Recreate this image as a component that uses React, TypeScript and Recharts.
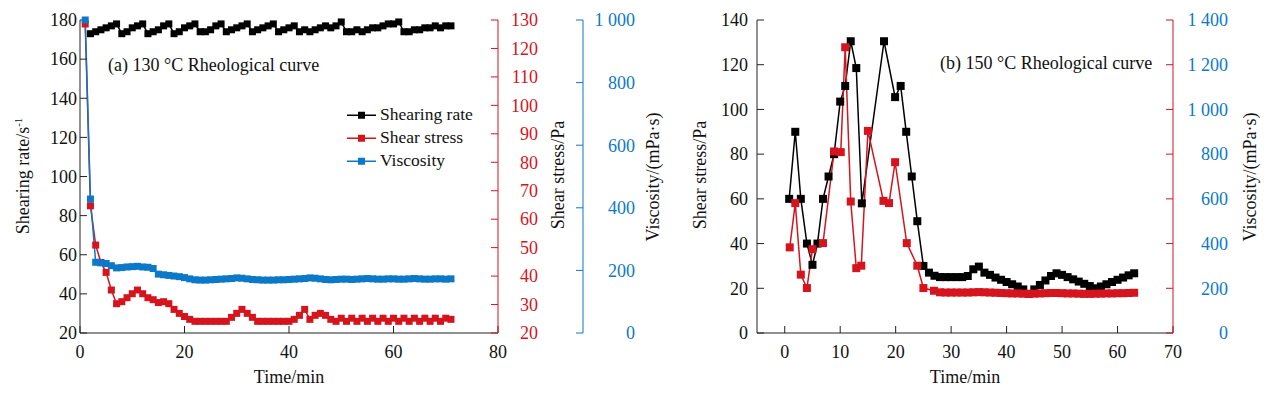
import { Line, LineChart, XAxis, YAxis } from "recharts";

const FONT = "'Liberation Serif', 'Times New Roman', Times, serif";
const RED = "#d5141d";
const BLUE = "#0c79c8";
const INK = "#111";

// (a) 130 °C — sampled once a minute
const timeA = [
  1, 2, 3, 4, 5, 6, 7, 8, 9, 10, 11, 12, 13, 14, 15, 16, 17, 18, 19, 20,
  21, 22, 23, 24, 25, 26, 27, 28, 29, 30, 31, 32, 33, 34, 35, 36, 37, 38, 39, 40,
  41, 42, 43, 44, 45, 46, 47, 48, 49, 50, 51, 52, 53, 54, 55, 56, 57, 58, 59, 60,
  61, 62, 63, 64, 65, 66, 67, 68, 69, 70, 71,
];
const shearRateA = [
  null, 173, 174, 175, 176, 177, 178, 173, 174, 176, 177, 178, 173, 174, 175, 177, 178, 173, 174, 176,
  177, 178, 174, 174, 175, 177, 178, 174, 175, 176, 177, 178, 174, 175, 176, 177, 178, 174, 175, 176,
  177, 174, 175, 174, 175, 176, 177, 176, 177, 179, 174, 174, 175, 174, 175, 176, 176, 177, 178, 178,
  179, 174, 174, 175, 175, 176, 176, 177, 176, 177, 177,
];
const shearStressA = [
  128.6, 64.7, 50.9, 44.8, 41.3, 35.1, 30.3, 31.0, 32.4, 33.8, 35.1, 33.8, 32.4, 31.7, 30.7, 31.0, 30.3, 28.3, 26.9, 25.8,
  24.8, 24.1, 24.1, 24.1, 24.1, 24.1, 24.1, 24.1, 25.5, 26.9, 28.3, 26.9, 25.5, 24.1, 24.1, 24.1, 24.1, 24.1, 24.1, 24.1,
  24.8, 26.2, 28.3, 24.8, 26.2, 26.9, 26.2, 24.8, 24.1, 25.2, 24.1, 25.2, 24.1, 25.2, 24.1, 25.2, 24.1, 25.2, 24.1, 25.2,
  24.1, 25.2, 24.1, 25.2, 24.1, 25.2, 24.1, 25.2, 24.1, 25.2, 24.8,
];
const viscosityA = [
  1000, 428, 226, 224, 222, 215, 208, 209, 211, 212, 213, 211, 210, 206, 188, 186, 184, 182, 180, 177,
  173, 170, 169, 169, 170, 171, 172, 173, 174, 176, 175, 173, 171, 170, 169, 169, 169, 170, 170, 171,
  172, 173, 174, 176, 175, 173, 171, 170, 171, 172, 172, 171, 172, 173, 174, 173, 172, 172, 173, 173,
  172, 172, 173, 174, 173, 172, 172, 173, 173, 172, 173,
];

// (b) 150 °C
const timeStressB = [
  0.8, 1.9, 2.9, 4, 5, 5.9, 6.9, 7.9, 8.9, 10, 10.9, 11.9, 12.9, 13.9, 17.9, 19.9, 20.9, 21.9, 22.9, 23.9,
  25, 26, 27, 28, 29, 30, 31, 32, 33, 34, 35, 36, 37, 38, 39, 40, 41, 42, 43, 44,
  45, 46, 47, 48, 49, 50, 51, 52, 53, 54, 55, 56, 57, 58, 59, 60, 61, 62, 63,
];
const shearStressB = [
  60, 90, 60, 40, 30.5, 40, 60, 70, 80, 103.5, 110.5, 130.5, 118.5, 58, 130.5, 105.5, 110.5, 90, 70, 50,
  30, 27, 25.6, 25, 25, 25, 25, 25, 25.5, 28.5, 29.7, 27, 26, 24.8, 23.8, 22.8, 21.8, 20.8, 19.5, 17.5,
  19.5, 21.5, 23.5, 25.5, 26.7, 26, 25, 24, 23, 22, 21, 20, 20.8, 21.8, 22.8, 23.8, 24.8, 25.8, 26.7,
];
const timeViscB = [
  0.9, 1.9, 2.9, 4, 5, 6.9, 8.9, 10.1, 10.9, 11.9, 12.9, 13.8, 15, 17.8, 18.8, 19.9, 22, 23.9, 25, 26.9,
  28, 29, 30, 31, 32, 33, 34, 35, 36, 37, 38, 39, 40, 41, 42, 43, 44, 45, 46, 47,
  48, 49, 50, 51, 52, 53, 54, 55, 56, 57, 58, 59, 60, 61, 62, 63,
];
const viscosityB = [
  383, 581, 261, 201, 375, 402, 812, 809, 1278, 588, 290, 301, 904, 591, 581, 764, 402, 301, 201, 189,
  182, 181, 181, 181, 181, 181, 182, 183, 182, 181, 180, 179, 178, 177, 177, 176, 175, 176, 177, 178,
  179, 179, 178, 177, 177, 176, 175, 175, 176, 176, 177, 177, 178, 178, 179, 180,
];

const ticksRate = [20, 40, 60, 80, 100, 120, 140, 160, 180];
const ticksStressA = [20, 30, 40, 50, 60, 70, 80, 90, 100, 110, 120, 130];
const ticksViscA = [0, 200, 400, 600, 800, 1000];
const ticksTimeA = [0, 20, 40, 60, 80];
const ticksStressB = [0, 20, 40, 60, 80, 100, 120, 140];
const ticksViscB = [0, 200, 400, 600, 800, 1000, 1200, 1400];
const ticksTimeB = [0, 10, 20, 30, 40, 50, 60, 70];

const rowsA = timeA.map((t, i) => ({
  t,
  rate: shearRateA[i],
  stress: shearStressA[i],
  visc: viscosityA[i],
}));
const stressRowsB = timeStressB.map((t, i) => ({ t, v: shearStressB[i] }));
const viscRowsB = timeViscB.map((t, i) => ({ t, v: viscosityB[i] }));

const thousands = (v: number) =>
  v >= 1000 ? `${Math.floor(v / 1000)} ${String(v % 1000).padStart(3, "0")}` : String(v);

const squareDot = (color: string, size: number) => (props: any) => {
  const { cx, cy, index } = props;
  if (cx == null || cy == null || isNaN(cy)) return <g key={`d-${index}`} />;
  return (
    <rect key={`d-${index}`} x={cx - size / 2} y={cy - size / 2} width={size} height={size} fill={color} />
  );
};

// one tick renderer for every axis, so the serif font is set on the text itself
const makeTick =
  (color: string, anchor: "start" | "middle" | "end", dy: string, fmt: (v: number) => string = String) =>
  (props: any) => (
    <text
      x={props.x}
      y={props.y}
      dy={dy}
      textAnchor={anchor}
      fill={color}
      style={{ fontFamily: FONT, fontSize: 18 }}
    >
      {fmt(props.payload.value)}
    </text>
  );

function Note({ x, y, children, rotate = false, size = 17 }: any) {
  return (
    <div
      style={{
        position: "absolute",
        left: x,
        top: y,
        transform: rotate ? "translate(-50%, -50%) rotate(-90deg)" : "translate(0, -50%)",
        whiteSpace: "nowrap",
        fontFamily: FONT,
        fontSize: size,
        lineHeight: 1,
        color: INK,
      }}
    >
      {children}
    </div>
  );
}

function Centered({ x, y, children }: any) {
  return (
    <div
      style={{
        position: "absolute",
        left: x,
        top: y,
        transform: "translate(-50%, -50%)",
        whiteSpace: "nowrap",
        fontFamily: FONT,
        fontSize: 18,
        fontWeight: 400,
        lineHeight: 1,
        color: INK,
      }}
    >
      {children}
    </div>
  );
}

const legendItems = [
  { name: "Shearing rate", color: "#000" },
  { name: "Shear stress", color: RED },
  { name: "Viscosity", color: BLUE },
];

export default function App() {
  return (
    <div
      style={{
        position: "absolute",
        left: 0,
        top: 0,
        width: 1270,
        height: 393,
        background: "#fff",
        fontFamily: FONT,
      }}
    >
      <div style={{ position: "absolute", left: 0, top: 0 }}>
        <LineChart
          width={660}
          height={393}
          data={rowsA}
          margin={{ top: 20, right: 0, bottom: 0, left: 0 }}
          style={{ fontFamily: FONT }}
        >
          <XAxis
            xAxisId="b"
            dataKey="t"
            type="number"
            domain={[0, 80]}
            ticks={ticksTimeA}
            interval={0}
            height={60}
            tickSize={-7}
            tickMargin={19}
            axisLine={{ stroke: "#222" }}
            tickLine={{ stroke: "#222" }}
            tick={makeTick(INK, "middle", "0.71em")}
          />
          <XAxis
            xAxisId="top"
            orientation="top"
            type="number"
            domain={[0, 80]}
            height={0}
            tick={false}
            tickLine={false}
            axisLine={{ stroke: "#555" }}
          />
          <YAxis
            yAxisId="rate"
            domain={[20, 180]}
            ticks={ticksRate}
            interval={0}
            width={80}
            tickSize={-7}
            tickMargin={10}
            axisLine={{ stroke: "#222" }}
            tickLine={{ stroke: "#222" }}
            tick={makeTick(INK, "end", "0.35em")}
          />
          <YAxis
            yAxisId="stress"
            orientation="right"
            domain={[20, 130]}
            ticks={ticksStressA}
            interval={0}
            width={85}
            tickSize={-7}
            tickMargin={47}
            axisLine={{ stroke: RED }}
            tickLine={{ stroke: RED }}
            tick={makeTick(RED, "end", "0.35em")}
          />
          <YAxis
            yAxisId="visc"
            orientation="right"
            domain={[0, 1000]}
            ticks={ticksViscA}
            interval={0}
            width={77}
            tickSize={-7}
            tickMargin={59}
            axisLine={{ stroke: BLUE }}
            tickLine={{ stroke: BLUE }}
            tick={makeTick(BLUE, "end", "0.35em", thousands)}
          />
          <Line
            xAxisId="b"
            yAxisId="rate"
            dataKey="rate"
            stroke="#000"
            strokeWidth={1.5}
            dot={squareDot("#000", 7)}
            isAnimationActive={false}
          />
          <Line
            xAxisId="b"
            yAxisId="stress"
            dataKey="stress"
            stroke={RED}
            strokeWidth={1.5}
            dot={squareDot(RED, 7)}
            isAnimationActive={false}
          />
          <Line
            xAxisId="b"
            yAxisId="visc"
            dataKey="visc"
            stroke={BLUE}
            strokeWidth={1.5}
            dot={squareDot(BLUE, 7)}
            isAnimationActive={false}
          />
        </LineChart>
      </div>

      <div style={{ position: "absolute", left: 660, top: 0 }}>
        <LineChart
          width={610}
          height={393}
          margin={{ top: 20, right: 0, bottom: 0, left: 0 }}
          style={{ fontFamily: FONT }}
        >
          <XAxis
            xAxisId="b"
            dataKey="t"
            type="number"
            domain={[-5, 70]}
            ticks={ticksTimeB}
            interval={0}
            height={60}
            tickSize={-7}
            tickMargin={19}
            axisLine={{ stroke: "#222" }}
            tickLine={{ stroke: "#222" }}
            tick={makeTick(INK, "middle", "0.71em")}
          />
          <XAxis
            xAxisId="top"
            orientation="top"
            type="number"
            domain={[-5, 70]}
            height={0}
            tick={false}
            tickLine={false}
            axisLine={{ stroke: "#333" }}
          />
          <YAxis
            yAxisId="stress"
            domain={[0, 140]}
            ticks={ticksStressB}
            interval={0}
            width={97}
            tickSize={-7}
            tickMargin={16}
            axisLine={{ stroke: "#222" }}
            tickLine={{ stroke: "#222" }}
            tick={makeTick(INK, "end", "0.35em")}
          />
          <YAxis
            yAxisId="visc"
            orientation="right"
            domain={[0, 1400]}
            ticks={ticksViscB}
            interval={0}
            width={97}
            tickSize={-7}
            tickMargin={62}
            axisLine={{ stroke: RED }}
            tickLine={{ stroke: RED }}
            tick={makeTick(BLUE, "end", "0.35em", thousands)}
          />
          <Line
            xAxisId="b"
            yAxisId="stress"
            data={stressRowsB}
            dataKey="v"
            stroke="#000"
            strokeWidth={1.5}
            dot={squareDot("#000", 8)}
            isAnimationActive={false}
          />
          <Line
            xAxisId="b"
            yAxisId="visc"
            data={viscRowsB}
            dataKey="v"
            stroke={RED}
            strokeWidth={1.5}
            dot={squareDot(RED, 8)}
            isAnimationActive={false}
          />
        </LineChart>
      </div>

      {/* titles and legend */}
      <Note x={108} y={65} size={18}>(a) 130 °C Rheological curve</Note>
      <Note x={940} y={63} size={18}>(b) 150 °C Rheological curve</Note>

      {legendItems.map((item, i) => (
        <div
          key={item.name}
          style={{
            position: "absolute",
            left: 347,
            top: 115 + i * 23,
            transform: "translateY(-50%)",
            display: "flex",
            alignItems: "center",
            whiteSpace: "nowrap",
            fontFamily: FONT,
            fontSize: 17.5,
            lineHeight: 1,
            color: INK,
          }}
        >
          <svg width={29} height={10} style={{ marginRight: 4 }}>
            <line x1={0} y1={5} x2={29} y2={5} stroke={item.color} strokeWidth={1.5} />
            <rect x={11} y={1.5} width={7} height={7} fill={item.color} />
          </svg>
          {item.name}
        </div>
      ))}

      {/* axis titles */}
      <Note x={22} y={176} rotate size={18}>
        Shearing rate/s<sup style={{ fontSize: 11 }}>-1</sup>
      </Note>
      <Note x={558} y={175} rotate size={18}>
        Shear stress/Pa
      </Note>
      <Note x={653} y={177} rotate size={18}>
        Viscosity/(mPa·s)
      </Note>
      <Note x={700} y={175} rotate size={18}>
        Shear stress/Pa
      </Note>
      <Note x={1250} y={177} rotate size={18}>
        Viscosity/(mPa·s)
      </Note>
      <Centered x={289} y={377}>
        Time/min
      </Centered>
      <Centered x={965} y={377}>
        Time/min
      </Centered>
    </div>
  );
}
